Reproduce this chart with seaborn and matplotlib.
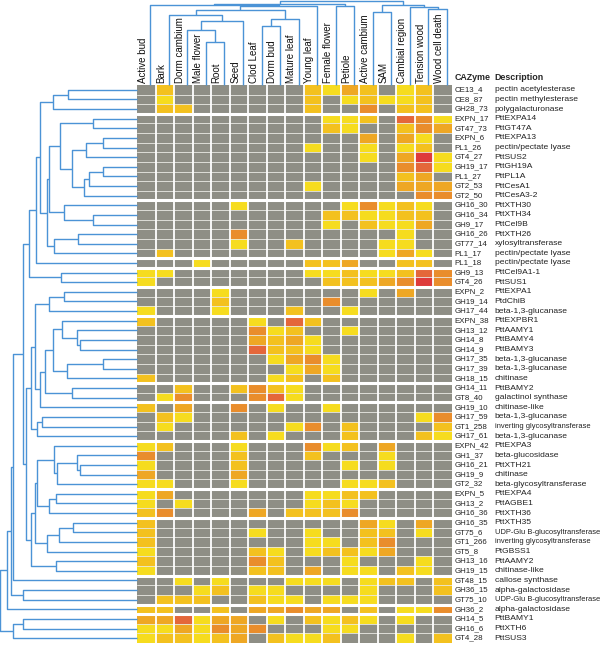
import matplotlib
matplotlib.use('Agg')
import matplotlib.pyplot as plt
import seaborn as sns
import numpy as np
import pandas as pd
from matplotlib.colors import ListedColormap

sns.set_theme(style='white')
plt.rcParams['font.family'] = ['Liberation Sans', 'DejaVu Sans']

tissues = ['Active bud', 'Bark', 'Dorm cambium', 'Male flower', 'Root', 'Seed',
           'Clod Leaf', 'Dorm bud', 'Mature leaf', 'Young leaf', 'Female flower',
           'Petiole', 'Active cambium', 'SAM', 'Cambial region', 'Tension wood',
           'Wood cell death']

cazymes = ['CE13_4', 'CE8_87', 'GH28_73', 'EXPN_17', 'GT47_73', 'EXPN_6', 'PL1_26',
           'GT4_27', 'GH19_17', 'PL1_27', 'GT2_53', 'GT2_50', 'GH16_30', 'GH16_34',
           'GH9_17', 'GH16_26', 'GT77_14', 'PL1_17', 'PL1_18', 'GH9_13', 'GT4_26',
           'EXPN_2', 'GH19_14', 'GH17_44', 'EXPN_38', 'GH13_12', 'GH14_8', 'GH14_9',
           'GH17_35', 'GH17_39', 'GH18_15', 'GH14_11', 'GT8_40', 'GH19_10', 'GH17_59',
           'GT1_258', 'GH17_61', 'EXPN_42', 'GH1_37', 'GH16_21', 'GH19_9', 'GT2_32',
           'EXPN_5', 'GH13_2', 'GH16_36', 'GH16_35', 'GT75_6', 'GT1_266', 'GT5_8',
           'GH13_16', 'GH19_15', 'GT48_15', 'GH36_15', 'GT75_10', 'GH36_2', 'GH14_5',
           'GH16_6', 'GT4_28']

descriptions = ['pectin acetylesterase', 'pectin methylesterase', 'polygalacturonase',
                'PttEXPA14', 'PttGT47A', 'PttEXPA13', 'pectin/pectate lyase', 'PttSUS2',
                'PttGH19A', 'PttPL1A', 'PttCesA1', 'PttCesA3-2', 'PttXTH30', 'PttXTH34',
                'PttCel9B', 'PttXTH26', 'xylosyltransferase', 'pectin/pectate lyase',
                'pectin/pectate lyase', 'PttCel9A1-1', 'PttSUS1', 'PttEXPA1', 'PtdChiB',
                'beta-1,3-glucanase', 'PttEXPBR1', 'PttAAMY1', 'PttBAMY4', 'PttBAMY3',
                'beta-1,3-glucanase', 'beta-1,3-glucanase', 'chitinase', 'PttBAMY2',
                'galactinol synthase', 'chitinase-like', 'beta-1,3-glucanase',
                'inverting glycosyltransferase', 'beta-1,3-glucanase', 'PttEXPA3',
                'beta-glucosidase', 'PttXTH21', 'chitinase', 'beta-glycosyltransferase',
                'PttEXPA4', 'PttAGBE1', 'PttXTH36', 'PttXTH35',
                'UDP-Glu B-glucosyltransferase', 'inverting glycosyltransferase',
                'PtGBSS1', 'PttAAMY2', 'chitinase-like', 'callose synthase',
                'alpha-galactosidase', 'UDP-Glu B-glucosyltransferase',
                'alpha-galactosidase', 'PttBAMY1', 'PttXTH6', 'PttSUS3']

# expression class: 0 = not expressed, 1..6 = low .. high
expression = [
    [0,2,0,0,0,0,0,0,0,2,1,3,2,0,1,2,0],
    [0,1,0,0,0,0,0,0,0,2,0,1,2,1,1,2,0],
    [0,2,2,0,0,0,0,0,0,2,0,0,4,0,2,2,0],
    [0,0,0,0,0,0,0,0,0,0,1,1,2,0,5,4,1],
    [0,0,0,0,0,0,0,0,0,0,2,1,0,0,2,4,3],
    [0,0,0,0,0,0,0,0,0,0,0,0,3,0,3,1,0],
    [0,0,0,0,0,0,0,0,0,1,0,0,1,0,1,2,0],
    [0,0,0,0,0,0,0,0,0,0,0,0,1,0,3,6,1],
    [0,0,0,0,0,0,0,0,0,0,0,0,0,0,4,5,1],
    [0,0,0,0,0,0,0,0,0,0,0,0,0,0,2,3,0],
    [0,0,0,0,0,0,0,0,0,1,0,0,0,0,3,3,3],
    [0,0,0,0,0,0,0,0,0,0,0,0,0,0,0,4,4],
    [0,0,0,0,0,1,0,0,0,0,0,1,4,1,2,1,0],
    [0,0,0,0,0,0,0,0,0,0,2,2,1,1,2,2,0],
    [0,0,0,0,0,0,0,0,0,0,1,0,2,1,1,3,0],
    [0,0,0,0,0,4,0,0,0,0,0,0,0,0,1,0,0],
    [0,0,0,0,0,1,0,0,2,0,0,0,0,1,1,0,0],
    [0,2,0,0,0,0,0,0,0,0,0,0,0,1,3,1,0],
    [0,0,0,1,0,0,0,0,0,2,2,3,0,0,2,2,0],
    [1,1,0,0,0,0,0,0,0,1,1,2,1,1,2,5,4],
    [1,0,0,0,0,0,0,0,0,0,2,2,2,3,4,6,4],
    [0,0,0,0,1,0,0,0,0,0,0,0,1,0,3,0,0],
    [0,0,0,0,2,0,0,0,0,0,4,0,0,0,0,0,0],
    [1,0,0,0,1,0,0,0,2,0,0,1,0,0,0,0,0],
    [2,0,0,0,0,0,1,0,5,2,0,0,0,0,0,0,0],
    [0,0,0,0,0,0,4,1,2,0,0,1,0,0,0,0,0],
    [0,0,0,0,0,0,3,2,3,1,0,0,0,0,0,0,0],
    [0,0,0,0,0,0,5,2,2,1,0,0,0,0,0,0,0],
    [0,0,0,0,0,0,0,1,3,4,1,0,0,0,0,0,0],
    [0,0,0,0,0,0,0,0,1,3,1,0,0,0,0,0,0],
    [2,0,0,0,0,0,0,1,2,0,2,0,0,0,0,0,0],
    [0,0,2,0,0,2,4,2,1,0,0,0,0,0,0,0,0],
    [0,1,4,0,0,0,4,5,1,0,0,0,0,0,0,0,0],
    [2,0,3,0,0,4,0,1,0,0,1,0,0,0,0,0,0],
    [0,2,1,0,0,0,0,0,0,0,0,0,0,0,0,1,4],
    [0,1,0,0,0,0,0,0,1,4,0,2,0,0,0,0,2],
    [0,0,0,0,0,2,0,1,0,0,0,2,0,0,0,2,1],
    [1,2,0,0,0,1,0,0,0,4,1,2,0,3,0,0,0],
    [4,0,0,0,0,2,0,0,0,2,0,0,0,1,0,0,0],
    [1,0,0,0,0,2,0,0,0,0,0,1,0,1,0,0,0],
    [3,0,0,0,0,3,0,0,0,0,0,0,0,0,0,0,0],
    [1,1,0,0,0,1,0,0,0,0,0,1,1,2,0,0,0],
    [1,3,0,0,0,0,0,0,0,1,1,2,2,0,0,0,0],
    [1,0,1,0,0,0,0,0,0,1,2,1,0,0,0,0,0],
    [2,4,0,0,0,0,3,0,2,2,2,4,0,0,0,0,0],
    [2,0,0,0,0,0,0,0,0,0,0,0,3,1,0,3,0],
    [2,0,0,0,0,0,1,0,0,1,0,0,2,2,0,1,0],
    [2,0,0,0,0,0,0,0,0,1,1,0,2,4,0,0,0],
    [1,0,0,0,0,0,2,1,0,1,2,2,1,3,0,0,0],
    [2,0,0,0,0,0,4,2,0,0,0,1,0,0,0,1,0],
    [1,0,0,0,0,0,2,2,0,3,0,1,1,0,2,1,0],
    [0,0,1,0,1,0,0,0,1,1,1,0,1,2,2,0,2],
    [0,0,0,1,2,0,1,1,0,0,0,0,1,0,0,0,2],
    [0,2,2,2,0,0,2,1,1,0,1,1,1,0,0,0,0],
    [2,2,0,0,2,0,3,3,4,3,3,0,2,0,1,1,4],
    [3,3,5,1,3,3,0,1,0,2,1,2,1,0,1,0,0],
    [1,1,3,1,4,3,4,0,0,0,1,1,0,0,0,0,0],
    [1,2,2,1,2,3,0,2,1,1,2,0,0,0,1,0,2],
]

# cluster cuts (after these rows)
group_breaks = [3, 12, 18, 19, 21, 24, 31, 33, 37, 42, 45, 51, 54, 55]

# column tree: (height, left, right), leaves are column indices
bark_leaf = (75, (70, 1, (64.3, (55, 2, (43.3, 3, 4)), 5)), (65.7, (59, 6, 7), 8))
col_tree = (84.5,
            (81.5, (80, 0, (79, bark_leaf, 9)), (79, 10, 11)),
            (80, (73.3, 12, 13), (78, 14, (75.7, 15, 16))))

# row tree: (height, top, bottom), leaves are row indices
row_upper = (108,
             (101, (97, (84, (69, 0, 1), 2),
                    (90, (88, (77, (44, 3, 4),
                               (65, (51, (34, 5, 6), 7),
                                (53, (48, (34, 8, 9), 10), 11))),
                          (73, 12, (44, 13, 14))),
                     (83, (59, 15, 16), 17))),
              18),
             (76, 19, 20))
row_lower = (111,
             (106, (102, (88, (73, 21, 22), 23),
                    (97, (92, (84, (75, 24, (60, 25, (57, 26, 27))),
                               (70, (34, 28, 29), 30)),
                          (65, 31, 32)), 33)),
              (100, (95, 34, 35), 36)),
             (106, (102, (100, (83, 37, (80, (60, 38, (57, 39, 40)), 41)),
                          (88, (81, 42, 43), 44)),
                    (90, (78, (64, 45, 46), 47), 48)),
              (81, 49, 50)))
row_tree = (137,
            (130, (126, (124, (114, row_upper, row_lower), 51), (114, 52, 53)), 54),
            (124, (114, 55, 56), 57))

palette = ['#8e8e85', '#f6dc1f', '#f3c11f', '#eea724', '#e98d2c', '#e4673a', '#de3b3b']
line_blue = '#4b93d6'

df = pd.DataFrame(expression, index=cazymes, columns=tissues)
n_rows, n_cols = df.shape

W, H = 606, 647
fig = plt.figure(figsize=(W / 100, H / 100), dpi=100)
hm_l, hm_r, hm_t, hm_b = 137, 452, 85, 643
ax = fig.add_axes([hm_l / W, 1 - hm_b / H, (hm_r - hm_l) / W, (hm_b - hm_t) / H])
ax_left = fig.add_axes([0, 1 - hm_b / H, hm_l / W, (hm_b - hm_t) / H])
ax_top = fig.add_axes([hm_l / W, 1 - hm_t / H, (hm_r - hm_l) / W, hm_t / H])

sns.heatmap(df, ax=ax, cmap=ListedColormap(palette), vmin=-0.5, vmax=6.5,
            cbar=False, xticklabels=False, yticklabels=False, linewidths=0)
for r in range(1, n_rows):
    ax.axhline(r, color='#e9e9e4', lw=0.6)
for c in range(1, n_cols):
    ax.axvline(c, color='white', lw=1.3)
for b in group_breaks:
    ax.axhline(b, color='white', lw=2.2)
ax.set_xlim(0, n_cols)
ax.set_ylim(n_rows, 0)
ax.set_xlabel('')
ax.set_ylabel('')

for i, (cz, ds) in enumerate(zip(cazymes, descriptions)):
    ax.text(17.12, i + 0.5, cz, fontsize=5.7, va='center', ha='left', color='#222222', clip_on=False)
    ds_size = 5.4 if len(ds) > 28 else 6.1
    ax.text(19.3, i + 0.5, ds, fontsize=ds_size, va='center', ha='left', color='#222222', clip_on=False)
ax.text(17.12, -0.75, 'CAZyme', fontsize=6.4, fontweight='bold', va='center', ha='left', clip_on=False)
ax.text(19.3, -0.75, 'Description', fontsize=6.4, fontweight='bold', va='center', ha='left', clip_on=False)


def draw_tree(axis, node, offset, orient):
    """Return (leaf position, height) of node and draw its links."""
    if not isinstance(node, tuple):
        return node + 0.5 + offset, 0.0
    h, a, b = node
    pa, ha = draw_tree(axis, a, offset, orient)
    pb, hb = draw_tree(axis, b, offset, orient)
    pos = [pa, pa, pb, pb]
    hts = [ha, h, h, hb]
    if orient == 'top':
        axis.plot(pos, hts, color=line_blue, lw=1.0, clip_on=False, solid_capstyle='butt')
    else:
        axis.plot(hts, pos, color=line_blue, lw=1.0, clip_on=False, solid_capstyle='butt')
    return (pa + pb) / 2, h


draw_tree(ax_top, col_tree, 0.22, 'top')
ax_top.set_xlim(0, n_cols)
ax_top.set_ylim(0, 85)
for j, t in enumerate(tissues):
    ax_top.text(j + 0.5 - 0.2, 2, t, rotation=90, fontsize=7, ha='center', va='bottom', color='#111111')
ax_top.axis('off')

draw_tree(ax_left, row_tree, 0.0, 'left')
ax_left.set_ylim(n_rows, 0)
ax_left.set_xlim(137.5, 0)
ax_left.axis('off')

fig.savefig('out.png', dpi=100)
